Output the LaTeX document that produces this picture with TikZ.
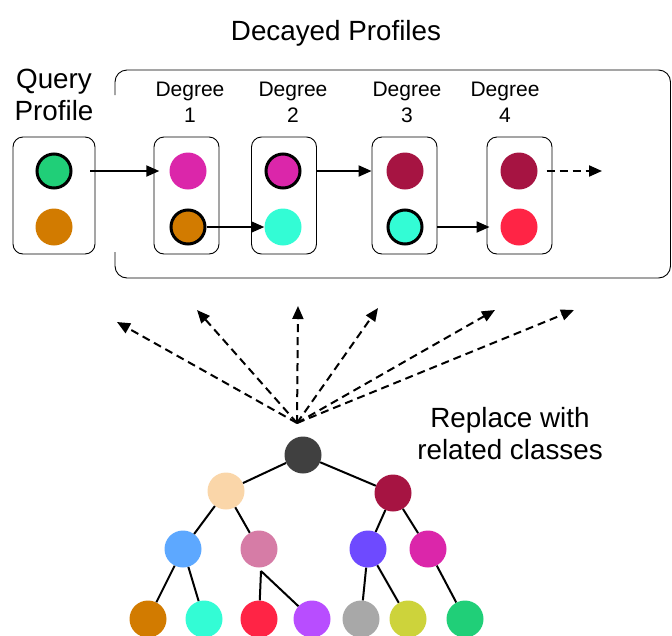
\documentclass[tikz,border=0pt]{standalone}
\usepackage{fontspec}
\setmainfont{Liberation Sans}
\usetikzlibrary{arrows.meta,calc}
\definecolor{cgreen}{HTML}{20CF78}
\definecolor{corange}{HTML}{D27B00}
\definecolor{cmagenta}{HTML}{DB26AA}
\definecolor{ccyan}{HTML}{33FCD5}
\definecolor{ccrimson}{HTML}{A61442}
\definecolor{cred}{HTML}{FF2445}
\definecolor{cviolet}{HTML}{B84DFF}
\definecolor{cgrey}{HTML}{A8A8A8}
\definecolor{colive}{HTML}{CDD33B}
\definecolor{cblue}{HTML}{5DA8FF}
\definecolor{cpink}{HTML}{D67CA6}
\definecolor{cpurple}{HTML}{6E4AFF}
\definecolor{cpeach}{HTML}{FAD6A9}
\definecolor{cdark}{HTML}{404040}
\begin{document}
\begin{tikzpicture}[x=1pt,y=-1pt,
  dot/.style={circle,inner sep=0pt,minimum size=37pt,draw=none},
  bdot/.style={circle,inner sep=0pt,minimum size=34pt,draw=black,line width=3pt},
  pbox/.style={draw=black,line width=0.9pt,rounded corners=10pt,minimum width=65pt,minimum height=117pt,inner sep=0pt},
  arr/.style={line width=2pt,-{Triangle[length=13pt,width=11pt]}},
  darr/.style={arr,dash pattern=on 8pt off 5pt},
  edge/.style={line width=2pt},
  big/.style={font=\fontsize{27.8}{32}\selectfont,align=center,inner sep=0pt},
  deg/.style={font=\fontsize{21}{26}\selectfont,align=center,inner sep=0pt}
]
\useasboundingbox (0,0) rectangle (672,635);

% titles
\node[big] (title) at (336,33) {Decayed Profiles};
\node[big] (qlabel) at (54,95) {Query\\Profile};
\node[big] (repl) at (510,433.5) {Replace with\\related classes};

% bracket frame
\draw[line width=0.9pt,rounded corners=12pt] (115,95) -- (115,70) -- (670.5,70) -- (670.5,278) -- (115,278) -- (115,252);

% boxes
\node[pbox,minimum width=82pt] (qbox) at (54,195.5) {};
\node[pbox] (b1) at (186.5,195.5) {};
\node[pbox] (b2) at (284,195.5) {};
\node[pbox] (b3) at (404.5,195.5) {};
\node[pbox] (b4) at (519.5,195.5) {};

% degree labels
\node[deg] (l1) at (190,102.5) {Degree\\1};
\node[deg] (l2) at (293,102.5) {Degree\\2};
\node[deg] (l3) at (407,102.5) {Degree\\3};
\node[deg] (l4) at (505,102.5) {Degree\\4};

% profile circles
\node[bdot,fill=cgreen] (qa) at (54,171) {};
\node[dot,fill=corange] (qb) at (54,227) {};
\node[dot,fill=cmagenta] (d1a) at (188,171) {};
\node[bdot,fill=corange] (d1b) at (188,227) {};
\node[bdot,fill=cmagenta] (d2a) at (283,171) {};
\node[dot,fill=ccyan] (d2b) at (283,227) {};
\node[dot,fill=ccrimson] (d3a) at (405,171) {};
\node[bdot,fill=ccyan] (d3b) at (405,227) {};
\node[dot,fill=ccrimson] (d4a) at (519,171) {};
\node[dot,fill=cred] (d4b) at (519,227) {};

% profile arrows
\draw[arr] ([xshift=-5pt]qbox.east |- qa) -- ([xshift=-10pt]d1a.west);
\draw[arr] (d1b) -- (d2b);
\draw[arr] (b2.east |- d2a) -- (b3.west |- d3a);
\draw[arr] (b3.east |- d3b) -- ([xshift=3pt]b4.west |- d4b);
\coordinate (dend) at (602,171);
\draw[darr] ([xshift=9pt]d4a.east) -- (dend);

% tree
\node[dot,fill=cdark] (root) at (303,455) {};
\node[dot,fill=cpeach] (nl) at (226,491) {};
\node[dot,fill=ccrimson] (nr) at (393,493) {};
\node[dot,fill=cblue] (nll) at (183,549) {};
\node[dot,fill=cpink] (nlr) at (259,549) {};
\node[dot,fill=cpurple] (nrl) at (368,549) {};
\node[dot,fill=cmagenta] (nrr) at (428,549) {};
\node[dot,fill=corange] (t1) at (148,619) {};
\node[dot,fill=ccyan] (t2) at (204,619) {};
\node[dot,fill=cred] (t3) at (259,619) {};
\node[dot,fill=cviolet] (t4) at (312,619) {};
\node[dot,fill=cgrey] (t5) at (361,619) {};
\node[dot,fill=colive] (t6) at (408,619) {};
\node[dot,fill=cgreen] (t7) at (465,619) {};
\coordinate (pj) at (261,571);

\draw[edge] (root) -- (nl);
\draw[edge] (root) -- (nr);
\draw[edge] (nl) -- (nll);
\draw[edge] (nl) -- (nlr);
\draw[edge] (nr) -- (nrl);
\draw[edge] (nr) -- (nrr);
\draw[edge] (nll) -- (t1);
\draw[edge] (nll) -- (t2);
\draw[edge] (pj) -- (t3);
\draw[edge] (pj) -- (t4);
\draw[edge] (nrl) -- (t5);
\draw[edge] (nrl) -- (t6);
\draw[edge] (nrr) -- (t7);

% fan arrows
\coordinate (fan) at (297,423);
\coordinate (f1) at (117,322);
\coordinate (f2) at (197,310);
\coordinate (f3) at (298,306);
\coordinate (f4) at (378,308);
\coordinate (f5) at (495,310);
\coordinate (f6) at (574,310);
\foreach \f in {f1,f2,f3,f4,f5,f6}{
  \draw[darr] (fan) -- (\f);
}
\end{tikzpicture}
\end{document}
